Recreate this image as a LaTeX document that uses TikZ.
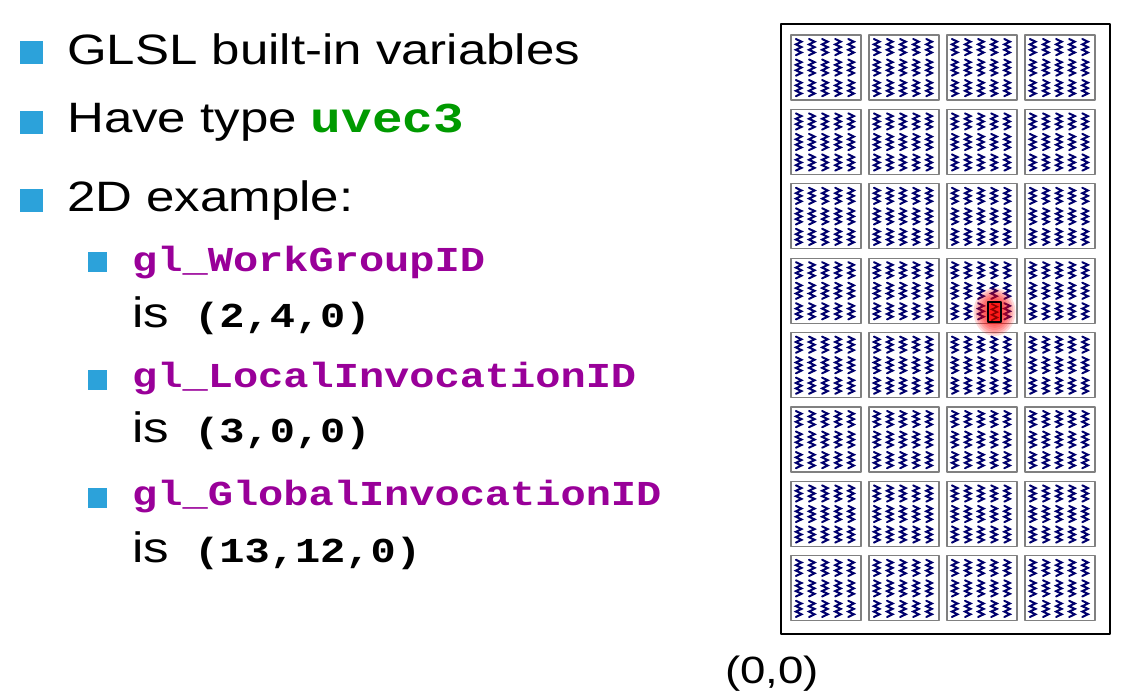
\documentclass[tikz,border=0pt]{standalone}
\usepackage{fontspec}
\setmainfont{Liberation Sans}[FakeStretch=1.2]
\setmonofont{Liberation Mono}[FakeStretch=1.2]
\definecolor{bulletblue}{HTML}{2CA2DA}
\definecolor{glslgreen}{HTML}{009A00}
\definecolor{glslpurple}{HTML}{990099}
\definecolor{threadblue}{HTML}{00006E}
\tikzset{
  txt/.style={anchor=base west, inner sep=0pt, font=\fontsize{42.5}{50}\selectfont},
  bul/.style={fill=bulletblue, inner sep=0pt, minimum width=23pt, minimum height=23pt, anchor=south west},
  subbul/.style={fill=bulletblue, inner sep=0pt, minimum width=19pt, minimum height=20pt, anchor=south west},
  wgroup/.style={draw=gray, line width=1.3pt, fill=white},
  thread/.style={threadblue, line width=2pt, line join=miter},
}
\newcommand{\code}[1]{{\ttfamily\bfseries #1}}
\newcommand{\subcode}[1]{{\ttfamily\bfseries\fontsize{35}{42}\selectfont #1}}
\begin{document}
\begin{tikzpicture}[x=1pt, y=-1pt, line join=round, line cap=round]
\useasboundingbox (0,0) rectangle (1128,692);
% bullet list
\node[bul] (b1) at (20,64) {};
\node[txt] (t1) at (67,65) {GLSL built-in variables};
\node[bul] (b2) at (20,134) {};
\node[txt] (t2) at (67,133) {Have type \textcolor{glslgreen}{\code{uvec3}}};
\node[bul] (b3) at (20,212) {};
\node[txt] (t3) at (67,212) {2D example:};
\node[subbul] (s1) at (88,272) {};
\node[txt] (wg) at (132,272) {\textcolor{glslpurple}{\subcode{gl\_WorkGroupID}}};
\node[txt] (wgv) at (132,328) {is\subcode{ (2,4,0)}};
\node[subbul] (s2) at (88,390) {};
\node[txt] (li) at (132,388) {\textcolor{glslpurple}{\subcode{gl\_LocalInvocationID}}};
\node[txt] (liv) at (132,443) {is\subcode{ (3,0,0)}};
\node[subbul] (s3) at (88,508) {};
\node[txt] (gi) at (132,506) {\textcolor{glslpurple}{\subcode{gl\_GlobalInvocationID}}};
\node[txt] (giv) at (132,562) {is\subcode{ (13,12,0)}};
% dispatch grid
\draw[line width=1.8pt] (781,24) rectangle (1110,634);
\foreach \c in {0,...,3}
  \foreach \r in {0,...,7}{
    \pgfmathsetmacro{\bx}{791+78*\c}
    \pgfmathsetmacro{\by}{35+74.4*\r}
    \draw[wgroup] (\bx,\by) rectangle ++(70,65);
    \foreach \i in {0,...,4}
      \foreach \j in {0,...,2}
        \draw[thread, shift={({\bx+7.7+13.1*\i},{\by+4+20.5*\j})}]
          (-2.8,0)--(2.8,2.7)--(-2.8,5.4)--(2.8,8.1)--(-2.8,10.8)--(2.8,13.5)--(-2.8,16.2);
  }
% highlighted invocation
\foreach \k in {1,...,8}
  \fill[red, opacity=0.15] (994.5,312) ellipse ({5+2*\k} and {8+2*\k});
\draw[fill=red!90!white, line width=1.4pt] (988,302) rectangle (1001,322);
\draw[thread, red!55!black, line width=1.6pt, shift={(994.5,304)}]
  (-2.8,0)--(2.8,2.7)--(-2.8,5.4)--(2.8,8.1)--(-2.8,10.8)--(2.8,13.5)--(-2.8,16.2);
\node[txt, font=\fontsize{38}{46}\selectfont] (origin) at (725,683) {(0,0)};
\end{tikzpicture}
\end{document}
